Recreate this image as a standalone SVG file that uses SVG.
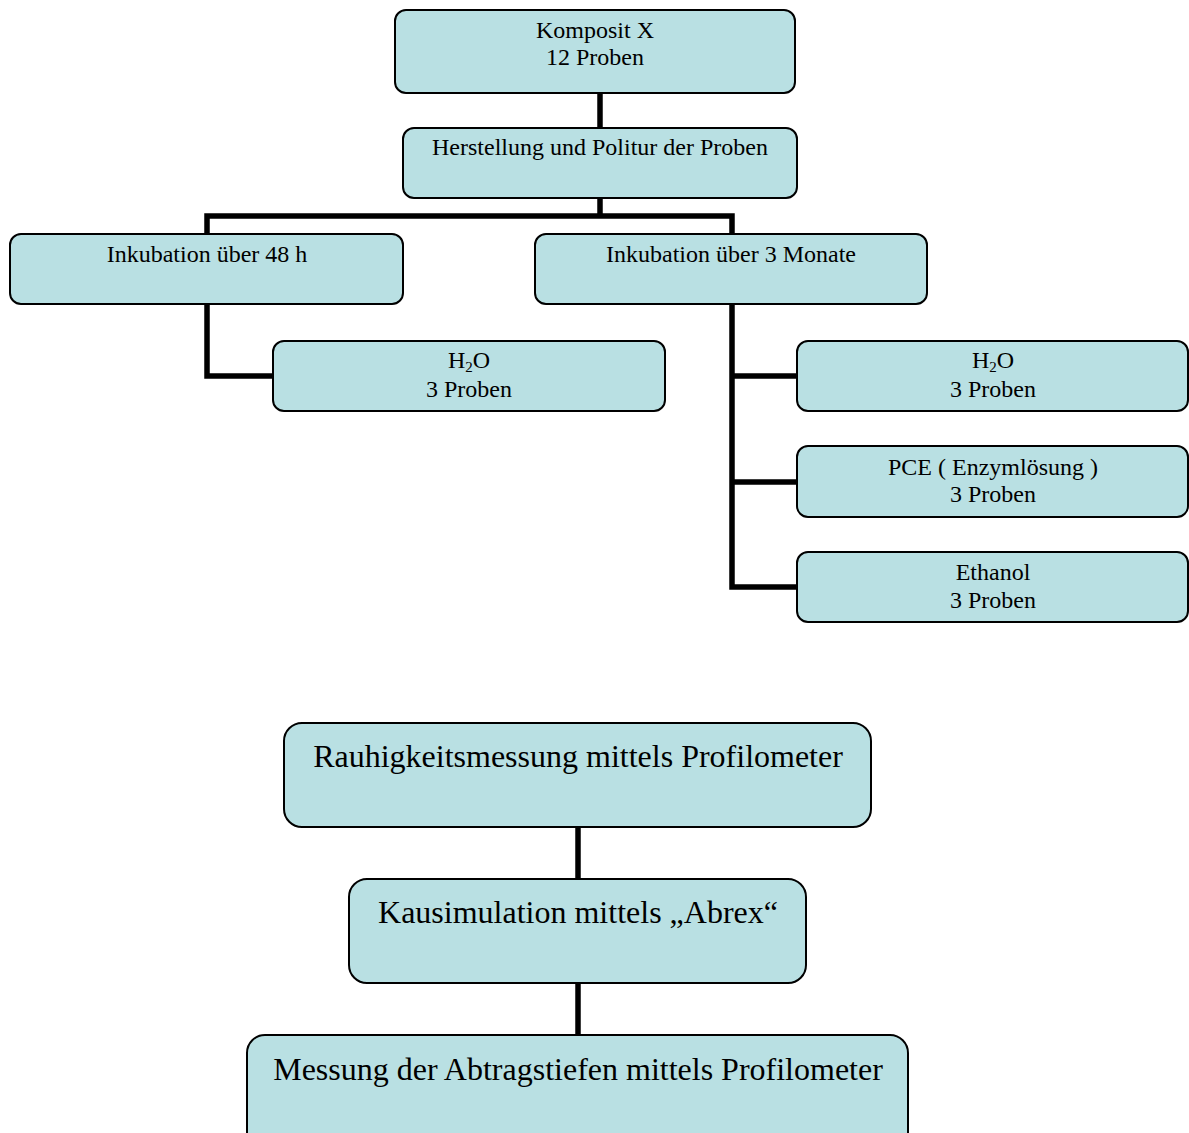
<svg xmlns="http://www.w3.org/2000/svg" width="1189" height="1133" viewBox="0 0 1189 1133">
<style>
.box{fill:#B9E0E3;stroke:#000;stroke-width:2}
.t{font-family:"Liberation Serif","Times New Roman",serif;font-size:24px;fill:#000;text-anchor:middle}
.tl{font-family:"Liberation Serif","Times New Roman",serif;font-size:32px;fill:#000;text-anchor:middle}
.c{fill:none;stroke:#000;stroke-width:5.5}
</style>
<rect width="1189" height="1133" fill="#fff"/>
<g id="connectors">
<path class="c" d="M600,93 V128"/>
<path class="c" d="M600,198 V216 M207,234 V216 H732 V234"/>
<path class="c" d="M207,304 V376 H273"/>
<path class="c" d="M732,304 V587 H797 M732,376 H797 M732,482 H797"/>
<path class="c" d="M578,827 V879"/>
<path class="c" d="M578,983 V1035"/>
</g>
<g id="n1"><rect class="box" x="395" y="10" width="400" height="83" rx="11"/><text class="t" x="595" y="38">Komposit X</text><text class="t" x="595" y="65">12 Proben</text></g>
<g id="n2"><rect class="box" x="403" y="128" width="394" height="70" rx="11"/><text class="t" x="600" y="155">Herstellung und Politur der Proben</text></g>
<g id="n3"><rect class="box" x="10" y="234" width="393" height="70" rx="11"/><text class="t" x="207" y="262">Inkubation über 48 h</text></g>
<g id="n4"><rect class="box" x="535" y="234" width="392" height="70" rx="11"/><text class="t" x="731" y="262">Inkubation über 3 Monate</text></g>
<g id="n5"><rect class="box" x="273" y="341" width="392" height="70" rx="11"/><text class="t" x="469" y="368">H<tspan font-size="15" dy="4">2</tspan><tspan dy="-4">O</tspan></text><text class="t" x="469" y="397">3 Proben</text></g>
<g id="n6"><rect class="box" x="797" y="341" width="391" height="70" rx="11"/><text class="t" x="993" y="368">H<tspan font-size="15" dy="4">2</tspan><tspan dy="-4">O</tspan></text><text class="t" x="993" y="397">3 Proben</text></g>
<g id="n7"><rect class="box" x="797" y="446" width="391" height="71" rx="11"/><text class="t" x="993" y="475">PCE ( Enzymlösung )</text><text class="t" x="993" y="502">3 Proben</text></g>
<g id="n8"><rect class="box" x="797" y="552" width="391" height="70" rx="11"/><text class="t" x="993" y="580">Ethanol</text><text class="t" x="993" y="608">3 Proben</text></g>
<g id="n9"><rect class="box" x="284" y="723" width="587" height="104" rx="18"/><text class="tl" x="578" y="767">Rauhigkeitsmessung mittels Profilometer</text></g>
<g id="n10"><rect class="box" x="349" y="879" width="457" height="104" rx="18"/><text class="tl" x="578" y="923">Kausimulation mittels „Abrex“</text></g>
<g id="n11"><rect class="box" x="247" y="1035" width="661" height="120" rx="18"/><text class="tl" x="578" y="1080">Messung der Abtragstiefen mittels Profilometer</text></g>
</svg>
